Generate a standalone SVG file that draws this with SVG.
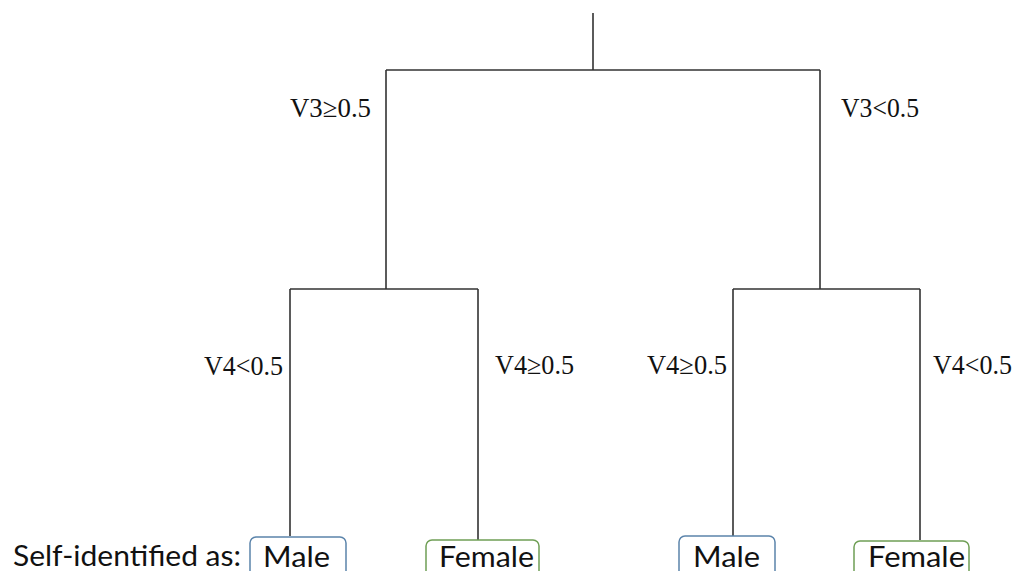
<svg xmlns="http://www.w3.org/2000/svg" width="1016" height="571" viewBox="0 0 1016 571">
<style>
.ln{stroke:#333;stroke-width:1.6;fill:none}
.lbl{font-family:"Liberation Serif","Times New Roman",serif;font-size:27px;fill:#111}
.leaf{font-family:"Lato","Open Sans","Liberation Sans",sans-serif;font-size:29px;fill:#111}
.male{fill:#fff;stroke:#5b84ab;stroke-width:1.5}
.female{fill:#fff;stroke:#6f9f55;stroke-width:1.5}
</style>
<rect width="1016" height="571" fill="#fff"/>
<g id="connectors">
<path class="ln" d="M593,13 V70 M386,70 H820 M386,70 V289 M820,70 V289 M290,289 H478 M733,289 H920 M290,289 V536 M478,289 V540 M733,289 V536 M920,289 V540"/>
</g>
<g id="edge-labels">
<text class="lbl" x="290" y="117" textLength="81" lengthAdjust="spacingAndGlyphs">V3≥0.5</text>
<text class="lbl" x="841" y="117" textLength="78" lengthAdjust="spacingAndGlyphs">V3&lt;0.5</text>
<text class="lbl" x="204" y="375" textLength="79" lengthAdjust="spacingAndGlyphs">V4&lt;0.5</text>
<text class="lbl" x="495" y="374" textLength="79" lengthAdjust="spacingAndGlyphs">V4≥0.5</text>
<text class="lbl" x="647" y="374" textLength="80" lengthAdjust="spacingAndGlyphs">V4≥0.5</text>
<text class="lbl" x="933" y="374" textLength="79" lengthAdjust="spacingAndGlyphs">V4&lt;0.5</text>
</g>
<g id="legend">
<text class="leaf" x="13" y="566" textLength="228" lengthAdjust="spacingAndGlyphs">Self-identified as:</text>
</g>
<g id="leaf1">
<rect class="male" x="250" y="537" width="96" height="45" rx="6"/>
<text class="leaf" x="263" y="567" textLength="67" lengthAdjust="spacingAndGlyphs">Male</text>
</g>
<g id="leaf2">
<rect class="female" x="426" y="540" width="113" height="45" rx="6"/>
<text class="leaf" x="439" y="567" textLength="95" lengthAdjust="spacingAndGlyphs">Female</text>
</g>
<g id="leaf3">
<rect class="male" x="679" y="536" width="96" height="45" rx="6"/>
<text class="leaf" x="693" y="567" textLength="67" lengthAdjust="spacingAndGlyphs">Male</text>
</g>
<g id="leaf4">
<rect class="female" x="854" y="541" width="115" height="45" rx="6"/>
<text class="leaf" x="868" y="567" textLength="97" lengthAdjust="spacingAndGlyphs">Female</text>
</g>
</svg>
